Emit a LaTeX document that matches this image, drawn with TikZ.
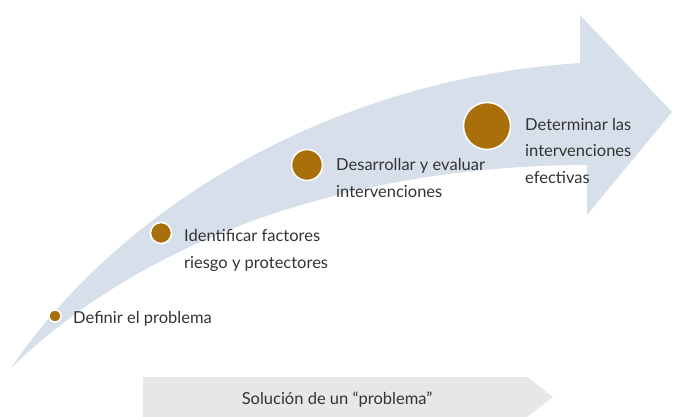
\documentclass[tikz,border=0pt]{standalone}
\usepackage{fontspec}
\setmainfont{Lato}
\definecolor{band}{HTML}{D7E0EA}
\definecolor{dotc}{HTML}{A86F0A}
\definecolor{txt}{HTML}{333333}
\definecolor{bar}{HTML}{E6E7E8}
\begin{document}
\begin{tikzpicture}[x=1pt,y=-1pt,
  dot/.style={circle,fill=dotc,draw=white,line width=1.5pt,inner sep=0pt},
  lbl/.style={text=txt,font=\fontsize{16.5}{26.5}\selectfont,align=left,inner sep=0pt,anchor=base west}]
\useasboundingbox (0,0) rectangle (674,417);
\fill[band] (11,368) .. controls (115,215) and (320,80) .. (580,63)
  -- (580,15) -- (672,112) -- (587,215) -- (587,165)
  .. controls (420,165) and (180,205) .. (11,368) -- cycle;
\node[dot,minimum size=12pt] (d1) at (55,316) {};
\node[dot,minimum size=21pt] (d2) at (161,233) {};
\node[dot,minimum size=31pt] (d3) at (307,165) {};
\node[dot,minimum size=47pt] (d4) at (487,126) {};
\node[lbl] (t1) at (73,323) {Definir el problema};
\node[lbl] (t2) at (184,268) {Identificar factores\\riesgo y protectores};
\node[lbl] (t3) at (336,197) {Desarrollar y evaluar\\intervenciones};
\node[lbl] (t4) at (525,183) {Determinar las\\intervenciones\\efectivas};
\fill[bar] (143,377) -- (527,377) -- (553,397) -- (527,417) -- (143,417) -- cycle;
\node[text=txt,font=\fontsize{16.5}{20}\selectfont,inner sep=0pt,anchor=base] (s) at (337,404) {Solución de un “problema”};
\end{tikzpicture}
\end{document}
